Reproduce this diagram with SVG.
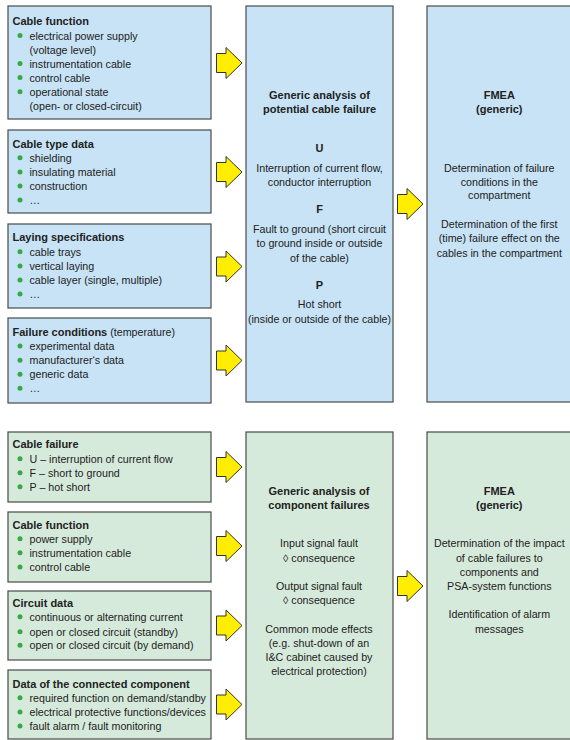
<svg xmlns="http://www.w3.org/2000/svg" xmlns:xlink="http://www.w3.org/1999/xlink" width="570" height="740" viewBox="0 0 570 740">
<defs>
<style>
text{font-family:"Liberation Sans",Arial,sans-serif;font-size:10.7px;fill:#222}
.b{font-weight:bold;font-size:11px}
.c{text-anchor:middle}
.blue{fill:#c7e3f5;stroke:#4a4a4a;stroke-width:1.2}
.green{fill:#d6eadb;stroke:#4a4a4a;stroke-width:1.2}
.dot{fill:#36a844}
.arr{fill:#ffee00;stroke:#333;stroke-width:1}
</style>
<path id="ar" d="M0,-9.5 H9.5 V-15.5 L25.5,0 L9.5,15.5 V9.5 H0 Z"/>
</defs>
<rect width="570" height="740" fill="#fff"/>

<!-- Top section -->
<g id="top-cable-function">
<rect class="blue" x="8" y="6" width="203" height="113"/>
<text class="b" x="12.5" y="25">Cable function</text>
<circle class="dot" cx="20" cy="35.5" r="2.5"/><text x="29.5" y="39.5">electrical power supply</text>
<text x="29.5" y="53.5">(voltage level)</text>
<circle class="dot" cx="20" cy="63.5" r="2.5"/><text x="29.5" y="67.5">instrumentation cable</text>
<circle class="dot" cx="20" cy="77.5" r="2.5"/><text x="29.5" y="81.5">control cable</text>
<circle class="dot" cx="20" cy="91.7" r="2.5"/><text x="29.5" y="95.7">operational state</text>
<text x="29.5" y="110">(open- or closed-circuit)</text>
</g>
<g id="top-cable-type">
<rect class="blue" x="8" y="130" width="203" height="83"/>
<text class="b" x="12.5" y="147.7">Cable type data</text>
<circle class="dot" cx="20" cy="157.7" r="2.5"/><text x="29.5" y="161.7">shielding</text>
<circle class="dot" cx="20" cy="172" r="2.5"/><text x="29.5" y="176">insulating material</text>
<circle class="dot" cx="20" cy="186" r="2.5"/><text x="29.5" y="190">construction</text>
<circle class="dot" cx="20" cy="200" r="2.5"/><text x="29.5" y="204">…</text>
</g>
<g id="top-laying">
<rect class="blue" x="8" y="224" width="203" height="84"/>
<text class="b" x="12.5" y="241">Laying specifications</text>
<circle class="dot" cx="20" cy="251.7" r="2.5"/><text x="29.5" y="255.7">cable trays</text>
<circle class="dot" cx="20" cy="266" r="2.5"/><text x="29.5" y="270">vertical laying</text>
<circle class="dot" cx="20" cy="280" r="2.5"/><text x="29.5" y="284">cable layer (single, multiple)</text>
<circle class="dot" cx="20" cy="294" r="2.5"/><text x="29.5" y="298">…</text>
</g>
<g id="top-failure-conditions">
<rect class="blue" x="8" y="318" width="203" height="85"/>
<text x="12.5" y="335.7"><tspan class="b">Failure conditions</tspan> (temperature)</text>
<circle class="dot" cx="20" cy="346" r="2.5"/><text x="29.5" y="350">experimental data</text>
<circle class="dot" cx="20" cy="360.3" r="2.5"/><text x="29.5" y="364.3">manufacturer‘s data</text>
<circle class="dot" cx="20" cy="374.3" r="2.5"/><text x="29.5" y="378.3">generic data</text>
<circle class="dot" cx="20" cy="388.3" r="2.5"/><text x="29.5" y="392.3">…</text>
</g>
<g id="top-generic-analysis">
<rect class="blue" x="246" y="6" width="147" height="396"/>
<text class="b c" x="319.5" y="99.3">Generic analysis of</text>
<text class="b c" x="319.5" y="113.3">potential cable failure</text>
<text class="b c" x="319.5" y="151.7">U</text>
<text class="c" x="319.5" y="171.7">Interruption of current flow,</text>
<text class="c" x="319.5" y="185.7">conductor interruption</text>
<text class="b c" x="319.5" y="213.3">F</text>
<text class="c" x="319.5" y="232.7">Fault to ground (short circuit</text>
<text class="c" x="319.5" y="247.3">to ground inside or outside</text>
<text class="c" x="319.5" y="261.7">of the cable)</text>
<text class="b c" x="319.5" y="289.3">P</text>
<text class="c" x="319.5" y="308.3">Hot short</text>
<text class="c" x="319.5" y="323.3">(inside or outside of the cable)</text>
</g>
<g id="top-fmea">
<rect class="blue" x="427" y="6" width="145" height="396"/>
<text class="b c" x="499.3" y="99.3">FMEA</text>
<text class="b c" x="499.3" y="113.3">(generic)</text>
<text class="c" x="499.3" y="171.7">Determination of failure</text>
<text class="c" x="499.3" y="185.7">conditions in the</text>
<text class="c" x="499.3" y="199.3">compartment</text>
<text class="c" x="499.3" y="227.7">Determination of the first</text>
<text class="c" x="499.3" y="242.3">(time) failure effect on the</text>
<text class="c" x="499.3" y="256.7">cables in the compartment</text>
</g>

<!-- Bottom section -->
<g id="bot-cable-failure">
<rect class="green" x="8" y="432" width="203" height="70"/>
<text class="b" x="12.5" y="448.3">Cable failure</text>
<circle class="dot" cx="20" cy="458.7" r="2.5"/><text x="29.5" y="462.7">U – interruption of current flow</text>
<circle class="dot" cx="20" cy="472.7" r="2.5"/><text x="29.5" y="476.7">F – short to ground</text>
<circle class="dot" cx="20" cy="486.7" r="2.5"/><text x="29.5" y="490.7">P – hot short</text>
</g>
<g id="bot-cable-function">
<rect class="green" x="8" y="512" width="203" height="70"/>
<text class="b" x="12.5" y="529.3">Cable function</text>
<circle class="dot" cx="20" cy="538.7" r="2.5"/><text x="29.5" y="542.7">power supply</text>
<circle class="dot" cx="20" cy="552.7" r="2.5"/><text x="29.5" y="556.7">instrumentation cable</text>
<circle class="dot" cx="20" cy="567" r="2.5"/><text x="29.5" y="571">control cable</text>
</g>
<g id="bot-circuit-data">
<rect class="green" x="8" y="591" width="203" height="69"/>
<text class="b" x="12.5" y="606.7">Circuit data</text>
<circle class="dot" cx="20" cy="616.7" r="2.5"/><text x="29.5" y="620.7">continuous or alternating current</text>
<circle class="dot" cx="20" cy="631.7" r="2.5"/><text x="29.5" y="635.7">open or closed circuit (standby)</text>
<circle class="dot" cx="20" cy="645.3" r="2.5"/><text x="29.5" y="649.3">open or closed circuit (by demand)</text>
</g>
<g id="bot-connected-component">
<rect class="green" x="8" y="670" width="203" height="69"/>
<text class="b" x="12.5" y="688.3">Data of the connected component</text>
<circle class="dot" cx="20" cy="697.7" r="2.5"/><text x="29.5" y="701.7">required function on demand/standby</text>
<circle class="dot" cx="20" cy="712" r="2.5"/><text x="29.5" y="716">electrical protective functions/devices</text>
<circle class="dot" cx="20" cy="726" r="2.5"/><text x="29.5" y="730">fault alarm / fault monitoring</text>
</g>
<g id="bot-generic-analysis">
<rect class="green" x="246" y="432" width="147" height="307"/>
<text class="b c" x="319" y="495">Generic analysis of</text>
<text class="b c" x="319" y="509.3">component failures</text>
<text class="c" x="319" y="547.3">Input signal fault</text>
<text class="c" x="319" y="561.7">◊ consequence</text>
<text class="c" x="319" y="590">Output signal fault</text>
<text class="c" x="319" y="604.3">◊ consequence</text>
<text class="c" x="319" y="632.7">Common mode effects</text>
<text class="c" x="319" y="646.7">(e.g. shut-down of an</text>
<text class="c" x="319" y="661">I&amp;C cabinet caused by</text>
<text class="c" x="319" y="675">electrical protection)</text>
</g>
<g id="bot-fmea">
<rect class="green" x="427" y="432" width="145" height="307"/>
<text class="b c" x="499.3" y="495">FMEA</text>
<text class="b c" x="499.3" y="509.3">(generic)</text>
<text class="c" x="499.3" y="547.3">Determination of the impact</text>
<text class="c" x="499.3" y="561.7">of cable failures to</text>
<text class="c" x="499.3" y="576">components and</text>
<text class="c" x="499.3" y="590">PSA-system functions</text>
<text class="c" x="499.3" y="617.7">Identification of alarm</text>
<text class="c" x="499.3" y="632.7">messages</text>
</g>

<g id="connectors">
<use class="arr" xlink:href="#ar" href="#ar" x="216.5" y="63"/>
<use class="arr" xlink:href="#ar" href="#ar" x="216.5" y="172"/>
<use class="arr" xlink:href="#ar" href="#ar" x="216.5" y="266.5"/>
<use class="arr" xlink:href="#ar" href="#ar" x="216.5" y="360.5"/>
<use class="arr" xlink:href="#ar" href="#ar" x="397.5" y="204"/>
<use class="arr" xlink:href="#ar" href="#ar" x="216.5" y="467"/>
<use class="arr" xlink:href="#ar" href="#ar" x="216.5" y="546"/>
<use class="arr" xlink:href="#ar" href="#ar" x="216.5" y="625.5"/>
<use class="arr" xlink:href="#ar" href="#ar" x="216.5" y="704.5"/>
<use class="arr" xlink:href="#ar" href="#ar" x="397.5" y="586"/>
</g>
</svg>
